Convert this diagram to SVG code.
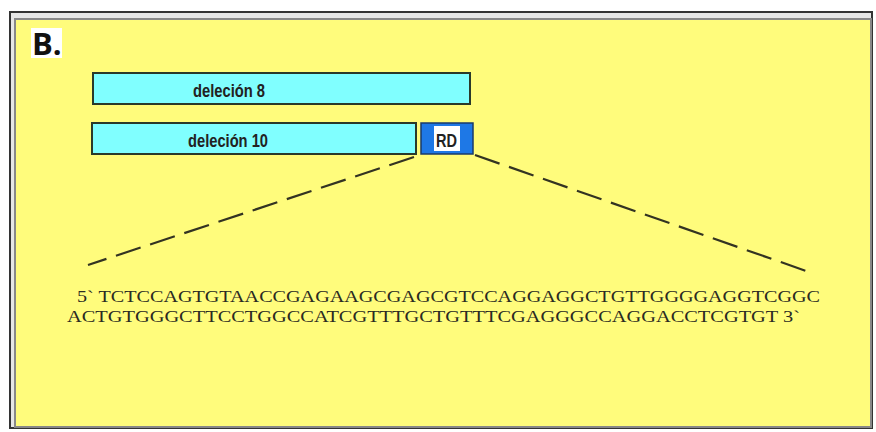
<svg xmlns="http://www.w3.org/2000/svg" width="876" height="432" viewBox="0 0 876 432">
<style>
.bar{fill:#80FFFF;stroke:#2a3a2a;stroke-width:2}
.lbl{font-family:"Liberation Sans",Arial,sans-serif;font-weight:bold;font-size:18px;fill:#222}
.seq{font-family:"Liberation Serif","Times New Roman",serif;font-size:17.5px;fill:#2a2a22}
.dash{stroke:#333322;stroke-width:2.2;stroke-dasharray:26 10;fill:none}
</style>
<rect x="0" y="0" width="876" height="432" fill="#ffffff"/>
<g id="frame">
<rect x="10" y="12" width="862" height="416" fill="#e6e6e6" stroke="#333" stroke-width="2"/>
<rect x="15" y="19" width="856" height="408" fill="#FFFC7C" stroke="#888" stroke-width="2"/>
</g>
<g id="title">
<rect x="31" y="28" width="31" height="30" fill="#ffffff"/>
<text x="32" y="55" font-family="'Open Sans','DejaVu Sans',sans-serif" font-weight="bold" font-size="31" fill="#111">B.</text>
</g>
<g id="del8">
<rect class="bar" x="93" y="73" width="377" height="31"/>
<text class="lbl" x="193" y="97" textLength="72" lengthAdjust="spacingAndGlyphs">deleción 8</text>
</g>
<g id="del10">
<rect class="bar" x="92" y="123" width="324" height="31"/>
<text class="lbl" x="188" y="147" textLength="80" lengthAdjust="spacingAndGlyphs">deleción 10</text>
</g>
<g id="rd">
<rect x="421" y="123" width="52" height="31" fill="#1E78E6" stroke="#1a3a6a" stroke-width="1.5"/>
<rect x="434" y="126" width="26" height="25" fill="#ffffff"/>
<text class="lbl" x="436" y="147" textLength="21" lengthAdjust="spacingAndGlyphs">RD</text>
</g>
<g id="connectors">
<line class="dash" x1="414" y1="157" x2="88" y2="265"/>
<line class="dash" x1="475" y1="155" x2="812" y2="273"/>
</g>
<g id="sequence">
<text class="seq" x="77" y="302" textLength="743" lengthAdjust="spacingAndGlyphs">5` TCTCCAGTGTAACCGAGAAGCGAGCGTCCAGGAGGCTGTTGGGGAGGTCGGC</text>
<text class="seq" x="67" y="322" textLength="733" lengthAdjust="spacingAndGlyphs">ACTGTGGGCTTCCTGGCCATCGTTTGCTGTTTCGAGGGCCAGGACCTCGTGT  3`</text>
</g>
</svg>
